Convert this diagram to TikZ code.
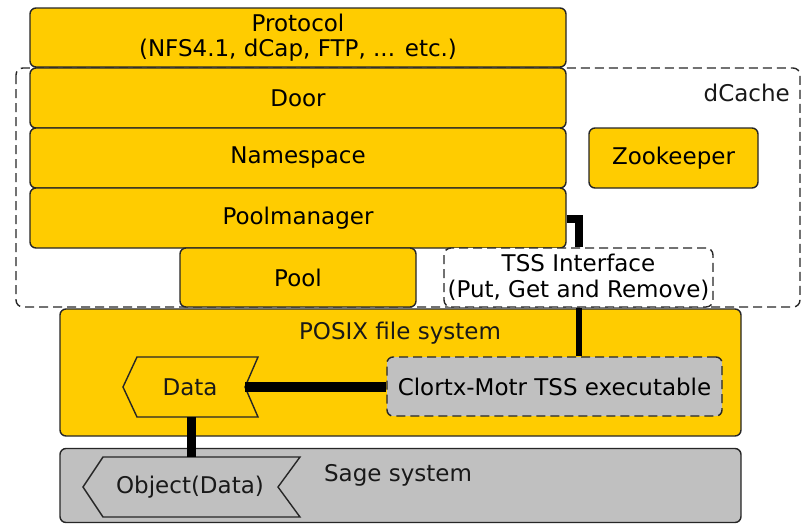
\documentclass[tikz,border=0pt]{standalone}
\usepackage{fontspec}
\setmainfont{DejaVu Sans}
\begin{document}
\begin{tikzpicture}[x=1pt,y=-1pt,
  every node/.style={font=\fontsize{23}{28}\selectfont},
  ybox/.style={draw=black!85,line width=1.4pt,fill=dcyellow,rounded corners=6pt,inner sep=0pt},
  gbox/.style={draw=black!85,line width=1.4pt,fill=dcgray,rounded corners=6pt,inner sep=0pt},
  dbox/.style={draw=black!85,line width=1.4pt,dash pattern=on 9pt off 5pt,rounded corners=7pt},
  lbl/.style={inner sep=0pt,text=black!90},
  conn/.style={draw=black,line width=#1},
]
\definecolor{dcyellow}{HTML}{FFCC00}
\definecolor{dcgray}{HTML}{C0C0C0}
\useasboundingbox (0,0) rectangle (801,523);
% dCache dashed region
\draw[dbox] (16,68) rectangle (800,307);
\node[lbl,anchor=east] (dcache) at (790,93) {dCache};
% stack
\node[ybox,minimum width=536pt,minimum height=59pt,align=center] (proto) at (298,37.5) {Protocol\\[-3pt](NFS4.1, dCap, FTP, ... etc.)};
\node[ybox,minimum width=536pt,minimum height=60pt] (door) at (298,98) {Door};
\node[ybox,minimum width=536pt,minimum height=60pt] (ns) at (298,158) {Namespace};
\node[ybox,minimum width=536pt,minimum height=60pt] (pm) at (298,218) {Poolmanager};
\node[ybox,minimum width=236pt,minimum height=59pt] (pool) at (298,277.5) {Pool};
\node[ybox,minimum width=169pt,minimum height=60pt] (zk) at (673.5,158) {Zookeeper};
\node[dbox,fill=white,minimum width=269pt,minimum height=59pt,align=center,inner sep=0pt] (tss) at (578.5,277.5) {TSS Interface\\[-2pt](Put, Get and Remove)};
% POSIX
\node[ybox,minimum width=681pt,minimum height=127pt] (posix) at (400.5,372.5) {};
\node[lbl] (posixl) at (400,333) {POSIX file system};
\node[gbox,dash pattern=on 9pt off 5pt,minimum width=335pt,minimum height=59pt] (clortx) at (554.5,386.5) {Clortx-Motr TSS executable};
\draw[draw=black!85,line width=1.4pt,fill=dcyellow] (137,357) -- (258,357) -- (245,387) -- (258,417) -- (137,417) -- (123,387) -- cycle;
\coordinate (datanotch) at (245,387);
\coordinate (databot) at (191.5,417);
\node[lbl] (data) at (190,387) {Data};
% Sage
\node[gbox,minimum width=681pt,minimum height=74pt] (sage) at (400.5,485.5) {};
\node[lbl] (sagel) at (398,475) {Sage system};
\draw[draw=black!85,line width=1.4pt,fill=dcgray] (103,457) -- (300,457) -- (278,487) -- (300,517) -- (103,517) -- (83,487) -- cycle;
\coordinate (objtop) at (191.5,457);
\node[lbl] (obj) at (190,487) {Object(Data)};
% connectors
\draw[conn=8pt] (pm.east |- 0,219) -| (tss.north);
\draw[conn=6pt] (tss.south) -- (tss.south |- clortx.north);
\draw[conn=10pt] (datanotch) -- (datanotch -| clortx.west);
\draw[conn=9pt] (databot) -- (objtop);
\end{tikzpicture}
\end{document}
